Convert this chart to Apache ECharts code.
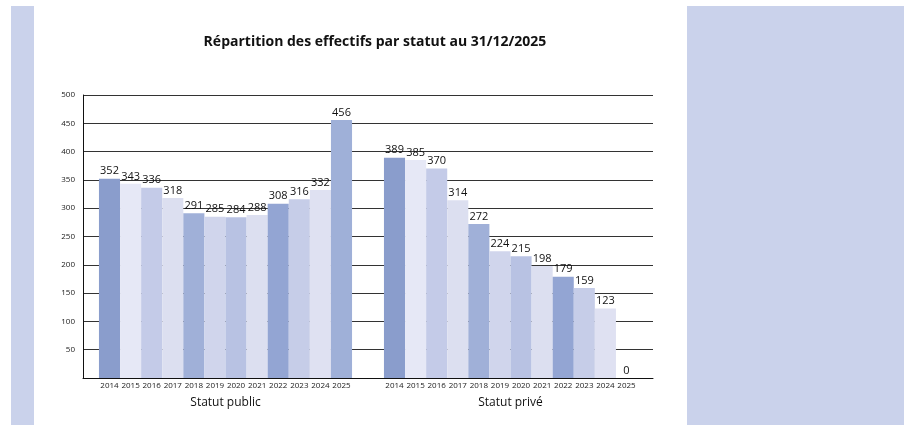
<!DOCTYPE html>
<html>
<head>
<meta charset="utf-8">
<script src="https://cdn.jsdelivr.net/npm/echarts@6/dist/echarts.min.js"></script>
<style>
  html, body { margin: 0; padding: 0; background: #fff; }
  #chart { width: 904px; height: 425px; }
</style>
</head>
<body>
<div id="chart"></div>
<script>
// données
const statuts = ['Statut public', 'Statut privé']
const annees = ['2014', '2015', '2016', '2017', '2018', '2019', '2020', '2021', '2022', '2023', '2024', '2025']
const effectifsPublic = [352, 343, 336, 318, 291, 285, 284, 288, 308, 316, 332, 456]
const effectifsPrive = [389, 385, 370, 314, 272, 224, 215, 198, 179, 159, 123, 0]
const couleurs = ['#8a9dcc', '#e6e8f6', '#c4cbe8', '#dcdff0', '#a0b0d8', '#d0d5ec',
                  '#b8c2e3', '#dcdff0', '#93a5d3', '#c6cde8', '#dfe1f2', '#9fb0d8']
const yTicks = [50, 100, 150, 200, 250, 300, 350, 400, 450, 500]

const police = '"Open Sans", "Noto Sans", sans-serif'
const chart = echarts.init(document.getElementById('chart'))

const series = []
annees.forEach((annee, i) => {
    // barre vide, sert juste à poser l'année sous l'axe
    series.push({
        type: 'bar',
        stack: 'a' + annee,
        data: [0, 0],
        barGap: 0,
        barCategoryGap: '11.2%',
        silent: true,
        itemStyle: { color: 'transparent' },
        label: {
            show: true,
            position: 'bottom',
            distance: 4,
            formatter: annee,
            fontFamily: police,
            fontSize: 8,
            color: '#1a1a1a'
        }
    })
    series.push({
        name: annee,
        type: 'bar',
        stack: 'a' + annee,
        data: [effectifsPublic[i], effectifsPrive[i]],
        barGap: 0,
        barCategoryGap: '11.2%',
        itemStyle: { color: couleurs[i] },
        label: {
            show: true,
            position: 'top',
            distance: 2,
            fontFamily: police,
            fontSize: 11,
            color: '#111'
        }
    })
})

const option = {
    animation: false,
    backgroundColor: '#fff',
    textStyle: { fontFamily: police },
    title: {
        text: 'Répartition des effectifs par statut au 31/12/2025',
        left: 370,
        textAlign: 'center',
        top: 30,
        textStyle: { fontFamily: police, fontSize: 14, fontWeight: 'bold', color: '#111' }
    },
    graphic: [
        { type: 'rect', z: -10, shape: { x: 11, y: 6, width: 23, height: 419 }, style: { fill: '#cad2eb' } },
        { type: 'rect', z: -10, shape: { x: 687, y: 6, width: 217, height: 419 }, style: { fill: '#cad2eb' } }
    ],
    grid: { left: 83, right: 251, top: 95, bottom: 47 },
    xAxis: {
        type: 'category',
        data: statuts,
        axisTick: { show: false },
        axisLine: { lineStyle: { color: '#111', width: 1 } },
        axisLabel: { margin: 19, fontFamily: police, fontSize: 12, color: '#111' }
    },
    yAxis: {
        type: 'value',
        min: 0,
        max: yTicks[yTicks.length - 1],
        interval: yTicks[1] - yTicks[0],
        axisLine: { show: true, lineStyle: { color: '#111', width: 1 } },
        axisTick: { show: false },
        axisLabel: {
            fontFamily: police,
            fontSize: 8,
            color: '#1a1a1a',
            margin: 8,
            formatter: v => (yTicks.includes(v) ? String(v) : '')
        },
        splitLine: { lineStyle: { color: '#333', width: 1 } }
    },
    series: series
}

chart.setOption(option)
</script>
</body>
</html>
